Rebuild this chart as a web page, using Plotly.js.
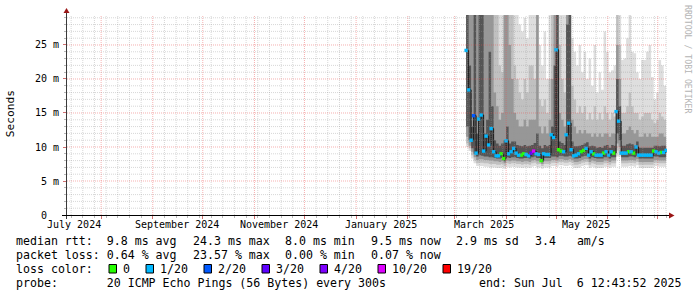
<!DOCTYPE html>
<html><head><meta charset="utf-8">
<script src="https://cdn.plot.ly/plotly-3.0.1.min.js"></script>
<style>html,body{margin:0;padding:0;background:#fff;}#chart{width:697px;height:297px;}</style>
</head><body><div id="chart"></div>
<script>
// ---------- data ----------
const sampleStart = Date.UTC(2025, 2, 8, 0, 0, 0);   // first smoke column
const sampleStepHours = 36;

const medianMs = [24.2,18.4,11.0,14.6,9.1,14.1,14.7,9.4,11.6,10.3,
  12.7,9.3,8.7,8.7,9.0,8.3,10.9,9.0,9.3,9.8,
  9.1,8.8,8.8,9.0,8.9,8.7,9.1,9.4,9.0,8.9,
  8.0,9.0,8.9,8.9,11.8,11.4,24.3,9.6,9.4,9.3,
  11.8,13.5,9.6,8.7,8.8,9.0,9.3,9.5,9.8,8.8,
  9.3,9.0,8.8,8.8,8.8,9.1,9.3,8.8,9.3,9.1,
  15.2,13.8,9.1,9.1,9.1,9.3,9.3,9.1,10.0,8.8,
  8.8,8.8,8.8,8.8,8.8,9.4,9.3,9.1,9.2,9.2,9.5];

const lossCount = [1,1,1,2,1,1,1,1,1,1,
  1,1,1,1,0,0,1,1,1,1,
  1,1,0,0,1,1,3,10,1,1,
  0,1,1,1,1,1,1,0,0,1,
  1,1,1,1,1,1,0,0,1,1,
  1,0,1,1,1,0,1,1,1,0,
  1,1,1,1,1,0,1,0,1,1,
  1,1,1,1,1,0,1,1,0,1,1];

const smokeHi1 = [40,40,40,40,40,40,40,40,40,40,
  40,40,40,40,40,40,40,40,40,40,
  35,28,27,29,26,40,40,38,40,25,
  22,27,20,40,40,40,40,40,32,30,
  40,40,26,24,22,25,21,24,20,23,
  19,25,18,21,18.4,27,24,21,21.3,22,
  40,40,22.8,23,26,40,24,23.8,21,20,
  22.8,22.8,24,25,20.3,17,18,22.8,22,19,20];

const smokeHi2 = [40,40,40,40,40,40,40,40,40,40,
  40,40,30,22,21,40,40,40,40,22,
  20,18,17,20,18,22,22,20,40,17,
  16,17,15,20,30,40,40,25,20,18,
  40,40,19,17,15,16,15,16,14,15,
  14,16,14,15,14,16,15,14,15,14.5,
  30,25,15,15,16,18,16,15,15,14,
  14.5,15,15,15,14,13.5,14,15,14.5,14,14];

const smokeHi3 = [40,40,40,40,40,40,40,40,40,40,
  40,18,16,14,15,40,40,25,20,15,
  14,13,13,14,13,14,14,14,40,13,
  12,13,12,14,20,40,40,15,14,13,
  40,40,14,13,12,12.5,12,12.5,12,12,
  11.5,12,11.5,12,11.5,12,12,11.5,12,12,
  25,20,12,12,12.5,13,12.5,12,12.5,11.5,
  11.5,12,11.5,12,11.5,11.5,11.5,12,12,11.5,11.5];

const smokeHi4 = [40,22,13,40,12,30,30,12,14,24,
  16,11,10.5,10.2,10.5,11,13,10.5,10.8,10.8,
  10.3,10.2,10.1,10.3,10.1,10.2,10.3,10.6,12,10.2,
  9.8,10.3,10.1,10.3,13,22,40,10.8,10.6,10.3,
  28,40,10.8,10.1,10.1,10.2,10.3,10.5,10.7,10.1,
  10.2,10.1,9.9,10,9.9,10.2,10.3,9.9,10.3,10.2,
  20,16,10.2,10.2,10.4,10.5,10.4,10.2,10.8,9.9,
  9.9,9.9,9.9,9.9,9.9,10.2,10.2,10.1,10.2,10.2,10.4];

const smokeLo4 = [13,11,9.8,9.0,8.6,8.8,8.7,8.6,8.6,8.5,
  8.5,8.4,8.3,8.3,8.4,7.9,8.5,8.4,8.5,8.5,
  8.4,8.3,8.3,8.4,8.4,8.3,8.5,8.6,8.4,8.4,
  7.8,8.4,8.4,8.4,8.6,8.6,8.5,8.7,8.7,8.6,
  8.6,8.7,8.6,8.3,8.3,8.4,8.6,8.7,8.7,8.3,
  8.5,8.4,8.3,8.3,8.3,8.5,8.5,8.3,8.5,8.5,
  12,11,8.5,8.5,8.5,8.6,8.6,8.5,8.7,8.3,
  8.3,8.3,8.3,8.3,8.3,8.6,8.6,8.5,8.5,8.5,8.6];

const smokeLo3 = [11.5,10.2,9.3,8.5,8.1,8.2,8.2,8.1,8.1,8.0,
  8.0,7.9,7.9,7.8,7.9,7.6,8.0,7.9,8.0,8.0,
  7.9,7.9,7.8,7.9,7.9,7.8,8.0,8.1,7.9,7.9,
  7.5,7.9,7.9,7.9,8.1,8.1,8.0,8.2,8.2,8.1,
  8.1,8.2,8.1,7.8,7.8,7.9,8.1,8.2,8.2,7.8,
  8.0,7.9,7.8,7.8,7.8,8.0,8.0,7.8,8.0,8.0,
  10.5,10,8.0,8.0,8.0,8.1,8.1,8.0,8.2,7.8,
  7.8,7.8,7.8,7.8,7.8,8.1,8.1,8.0,8.0,8.0,8.1];

const smokeLo2 = [10.5,9.8,8.8,8.0,7.6,7.7,7.7,7.6,7.6,7.5,
  7.5,7.5,7.4,7.4,7.5,7.2,7.6,7.5,7.6,7.6,
  7.5,7.5,7.4,7.5,7.5,7.4,7.6,7.7,7.5,7.5,
  7.2,7.5,7.5,7.5,7.7,7.7,7.6,7.8,7.8,7.7,
  7.7,7.8,7.7,7.4,7.4,7.5,7.7,7.8,7.8,7.4,
  7.6,7.5,7.4,7.4,7.4,7.6,7.6,7.4,7.6,7.6,
  9.5,9.2,7.6,7.6,7.6,7.7,7.7,7.6,7.8,7.4,
  7.4,7.4,7.4,7.4,7.4,7.7,7.7,7.6,7.6,7.6,7.7];

const smokeLo1 = [10,9.4,8.3,7.6,7.2,7.2,7.2,7.1,7.1,7.0,
  7.0,7.0,6.9,6.9,7.0,6.8,7.1,7.0,7.1,7.1,
  7.0,7.0,6.9,7.0,7.0,6.9,7.1,7.2,7.0,7.0,
  6.8,7.0,7.0,7.0,7.2,7.2,7.1,7.3,7.3,7.2,
  7.2,7.3,7.2,6.9,6.9,7.0,7.2,7.3,7.3,6.9,
  7.1,7.0,6.9,6.9,6.9,7.1,7.1,6.9,7.1,7.1,
  8.6,8.6,7.1,7.1,7.1,7.2,7.2,7.1,7.3,6.9,
  6.9,6.9,6.9,6.9,6.9,7.2,7.2,7.1,7.1,7.1,7.2];

// axes / labels
const xRange = ['2024-07-11 12:43:52', '2025-07-06 12:43:52'];
const monthGrid = ['2024-08-01','2024-09-01','2024-10-01','2024-11-01','2024-12-01','2025-01-01',
  '2025-02-01','2025-03-01','2025-04-01','2025-05-01','2025-06-01','2025-07-01'];
const firstWeekLine = Date.UTC(2024, 6, 14);   // Sundays
const labelDates = ['2024-07-16 00:00','2024-09-15 12:00','2024-11-15 18:00','2025-01-15 20:00','2025-03-18 14:00','2025-05-18 16:00'];
const labelTexts = ['July 2024','September 2024','November 2024','January 2025','March 2025','May 2025'];
const yMax = 29.41;
const yTickVals = [0,5,10,15,20,25];
const yTickText = ['0\u00a0\u00a0','5 m','10 m','15 m','20 m','25 m'];

const lossClasses = [0,1,2,3,4,10,19];
const lossLabels = ['0','1/20','2/20','3/20','4/20','10/20','19/20'];
const lossColors = ['#26ff00','#00b8ff','#0059ff','#5e00ff','#7e00ff','#dd00ff','#ff0000'];

const legendRtt = ['median rtt:  9.8 ms avg','24.3 ms max','8.0 ms min','9.5 ms now','2.9 ms sd','3.4   am/s'];
const legendLoss = ['packet loss: 0.64 % avg','23.57 % max','0.00 % min','0.07 % now'];
const legendLossTitle = 'loss color:';
const probeText = 'probe:       20 ICMP Echo Pings (56 Bytes) every 300s';
const endText = 'end: Sun Jul  6 12:43:52 2025';

// ---------- build ----------
const MONO = 'DejaVu Sans Mono, monospace';
const L = 67, T = 15, PW = 600, PH = 200;
const px = x => (x - L) / PW;
const py = y => (T + PH - y) / PH;
const nb = s => s.replace(/ /g, '\u00a0');
const fmt = ms => new Date(ms).toISOString().replace('T',' ').slice(0,19);

const times = medianMs.map((_, i) => fmt(sampleStart + i * sampleStepHours * 3600e3));

const traces = [];
const bands = [
  [smokeLo1, smokeHi1, '#dedede'],
  [smokeLo2, smokeHi2, '#c0c0c0'],
  [smokeLo3, smokeHi3, '#979797'],
  [smokeLo4, smokeHi4, '#555555']
];
bands.forEach(([lo, hi, col]) => {
  traces.push({x: times, y: lo, type:'scatter', mode:'lines', line:{width:0, shape:'hv'}, hoverinfo:'skip', showlegend:false});
  traces.push({x: times, y: hi, type:'scatter', mode:'lines', line:{width:0, shape:'hv'}, fill:'tonexty', fillcolor: col, hoverinfo:'skip', showlegend:false});
});
traces.push({x: times, y: medianMs, type:'scatter', mode:'lines', line:{width:1, color:'#1a1a1a', shape:'hv'}, showlegend:false});
lossClasses.forEach((c, k) => {
  const idx = medianMs.map((_, i) => i).filter(i => lossCount[i] === c);
  if (!idx.length) return;
  traces.push({x: idx.map(i => times[i]), y: idx.map(i => medianMs[i]), type:'scatter', mode:'markers',
    marker:{symbol:'square', size:3.4, color: lossColors[k], line:{width:0}}, showlegend:false});
});

const shapes = [];
const MAJ = 'rgba(235,80,80,0.45)', MIN = 'rgba(150,150,150,0.38)';
const endMs = Date.UTC(2025, 6, 6, 12, 43, 52);
const monthMs = monthGrid.map(d => Date.parse(d + 'T00:00:00Z'));
for (let t = firstWeekLine; t < endMs; t += 7 * 864e5) {
  if (monthMs.includes(t)) continue;
  shapes.push({type:'line', xref:'x', yref:'paper', x0: fmt(t), x1: fmt(t), y0:0, y1:1, layer:'above', line:{color:MIN, width:1, dash:'1px,1px'}});
}
for (let v = 1; v < yMax; v++) {
  if (v % 5 === 0) continue;
  shapes.push({type:'line', xref:'paper', yref:'y', x0:0, x1:1, y0:v, y1:v, layer:'above', line:{color:MIN, width:1, dash:'1px,1px'}});
}
monthGrid.forEach(d => shapes.push({type:'line', xref:'x', yref:'paper', x0:d, x1:d, y0:0, y1:1, layer:'above', line:{color:MAJ, width:1, dash:'1px,1px'}}));
yTickVals.slice(1).forEach(v => shapes.push({type:'line', xref:'paper', yref:'y', x0:0, x1:1, y0:v, y1:v, layer:'above', line:{color:MAJ, width:1, dash:'1px,1px'}}));
shapes.push({type:'line', xref:'paper', yref:'paper', x0:px(66.5), x1:px(66.5), y0:py(219), y1:py(12), layer:'above', line:{color:'#3a3a3a', width:1}});
shapes.push({type:'line', xref:'paper', yref:'paper', x0:px(62), x1:px(670), y0:py(215.5), y1:py(215.5), layer:'above', line:{color:'#000', width:1}});
const ARROW = '#9a1616';
shapes.push({type:'path', xref:'paper', yref:'paper', layer:'above', fillcolor:ARROW, line:{width:0},
  path:`M${px(63.5)},${py(13)} L${px(69.5)},${py(13)} L${px(66.5)},${py(8)} Z`});
shapes.push({type:'path', xref:'paper', yref:'paper', layer:'above', fillcolor:ARROW, line:{width:0},
  path:`M${px(669)},${py(212.5)} L${px(669)},${py(218.5)} L${px(674.5)},${py(215.5)} Z`});

const annotations = [];
const txt = (x, y, text, o = {}) => annotations.push(Object.assign({
  xref:'paper', yref:'paper', x: px(x), y: py(y), text: nb(text), showarrow:false,
  xanchor:'left', yanchor:'middle', borderpad:0, borderwidth:0,
  font:{family:MONO, size:11.6, color:'#000'}}, o));

labelDates.forEach((d, i) => annotations.push({xref:'x', yref:'paper', x:d, y:py(224.5), text:nb(labelTexts[i]),
  showarrow:false, xanchor:'center', yanchor:'middle', borderpad:0, borderwidth:0, font:{family:MONO, size:10, color:'#000'}}));
txt(10.5, 113.7, 'Seconds', {xanchor:'center', textangle:-90, font:{family:MONO, size:11.2, color:'#000'}});
txt(688, 59, 'RRDTOOL / TOBI OETIKER', {xanchor:'center', textangle:90, font:{family:MONO, size:8.2, color:'#b4b4b4'}});

const CW = 7, GAP = 15.5;
let cx = 16;
legendRtt.forEach(s => { txt(cx, 241, s); cx += CW * s.length + GAP; });
cx = 16;
legendLoss.forEach(s => { txt(cx, 255, s); cx += CW * s.length + GAP; });
txt(16, 268.7, legendLossTitle);
cx = 16 + CW * legendLossTitle.length + GAP;
lossLabels.forEach((s, k) => {
  shapes.push({type:'rect', xref:'paper', yref:'paper', x0:px(cx + 0.5), x1:px(cx + 8), y0:py(264.5), y1:py(273), layer:'above',
    fillcolor: lossColors[k], line:{color:'#000', width:1}});
  txt(cx + 14.5, 268.7, s);
  cx += 14.5 + CW * s.length + GAP;
});
txt(16, 283, probeText);
txt(681, 283, endText, {xanchor:'right'});

const layout = {
  width:697, height:297, autosize:false,
  margin:{l:L, r:697 - L - PW, t:T, b:297 - T - PH, pad:0},
  paper_bgcolor:'#fff', plot_bgcolor:'#fff', showlegend:false,
  xaxis:{type:'date', range:xRange, showgrid:false, zeroline:false, showline:false, automargin:false,
    tickmode:'array', tickvals:monthGrid, showticklabels:false, ticks:'outside', ticklen:3, tickcolor:'#d07070', tickwidth:1,
    minor:{tickmode:'linear', tick0: fmt(firstWeekLine), dtick: 7 * 864e5, ticks:'outside', ticklen:2, tickcolor:'#b8b8b8', showgrid:false}},
  yaxis:{range:[0, yMax], showgrid:false, zeroline:false, showline:false, automargin:false,
    tickmode:'array', tickvals:yTickVals, ticktext:yTickText, ticks:'outside', ticklen:3, tickcolor:'#d07070', tickwidth:1,
    ticklabelstandoff:2, tickfont:{family:MONO, size:10, color:'#000'},
    minor:{tickmode:'linear', tick0:0, dtick:1, ticks:'outside', ticklen:2, tickcolor:'#b8b8b8', showgrid:false}},
  shapes, annotations
};
Plotly.newPlot('chart', traces, layout, {staticPlot:true, displayModeBar:false});
</script></body></html>
